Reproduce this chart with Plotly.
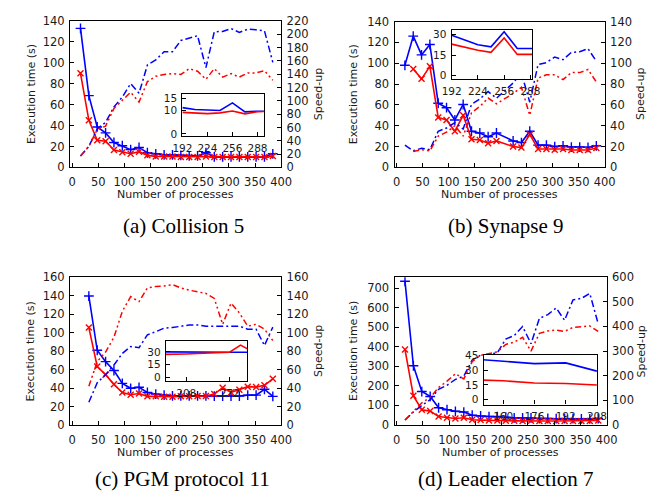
import plotly.graph_objects as go

W, H = 667, 500

# ---------------- data ----------------
# (a) Collision 5
a_x = [16, 32, 48, 64, 80, 96, 112, 128, 144, 160, 176, 192, 208, 224, 240, 256, 272, 288, 304, 320, 336, 352, 368, 384]
a_time_blue = [133, 68.7, 38.7, 33, 23.8, 20.7, 17, 19, 14, 13, 12, 12, 11.5, 11, 11, 14, 10, 10, 10, 10, 10, 10, 10, 13]
a_time_red = [90, 45, 26, 25, 16.7, 14.5, 13, 15, 11.5, 10.5, 10.5, 10.5, 10, 10, 10, 10.5, 10, 10, 10, 10, 10, 10, 10, 11]
a_speed_blue = [17, 31.6, 58, 67.7, 91, 105.6, 126, 111.5, 154, 161.6, 173.8, 173.8, 190.8, 194, 198, 150, 204, 204.4, 208.8, 203, 207.8, 206.9, 205.4, 158]
a_speed_red = [17, 31.6, 57, 62, 88.6, 100.8, 113, 98.3, 129, 137, 139.7, 141, 139.7, 148.5, 144.6, 132.4, 148.5, 135.8, 141, 135.8, 142, 142, 145.5, 131]
a_in_x = [192, 208, 224, 240, 256, 272, 288, 304]
a_in_blue = [11.0, 10.2, 10.0, 9.8, 13.0, 9.2, 9.5, 9.5]
a_in_red = [9.0, 8.9, 8.5, 8.8, 9.6, 8.4, 9.3, 9.5]

# (b) Synapse 9
b_x_blue = [16, 32, 48, 64, 80, 96, 112, 128, 144, 160, 176, 192, 224, 240, 256, 272, 288, 304, 320, 336, 352, 368, 384]
b_x_red = [32, 48, 64, 80, 96, 112, 128, 144, 160, 176, 192, 224, 240, 256, 272, 288, 304, 320, 336, 352, 368, 384]
b_time_blue = [98, 126, 108, 118, 61.6, 57.3, 45.5, 60.4, 34.7, 33, 29.4, 33, 25.4, 23.8, 34.7, 21.4, 21.4, 20, 20.7, 19.5, 19.5, 19.2, 20.7]
b_time_red = [94.5, 85, 97, 48, 45.5, 34.7, 50, 27, 26.3, 23.2, 25.4, 20, 19, 31.6, 17.7, 17.7, 17, 17.7, 16.7, 16.7, 16.7, 18.6]
b_speed_blue = [21.4, 16, 18.3, 17, 34.7, 37.8, 43, 36.8, 60.4, 65.7, 72.8, 66.3, 81, 90.4, 62.6, 98.8, 100.6, 106, 103.4, 110.5, 111, 114, 101.9]
b_speed_red = [15.2, 17, 15.8, 30, 33.8, 40, 30, 52.3, 58.5, 66.6, 61, 71, 77, 50, 85.8, 88.9, 88.9, 84.2, 91, 91, 94, 82]
b_in_x = [192, 224, 240, 256, 272, 288, 304]
b_in_blue = [29.5, 22.5, 21, 32, 19.8, 19.8, 19.8]
b_in_red = [23, 18.5, 17, 27.5, 15.5, 15.5, 15.5]

# (c) PGM protocol 11
c_x = [32, 48, 64, 80, 96, 112, 128, 144, 160, 176, 192, 208, 224, 240, 256, 272, 288, 304, 320, 336, 352, 368, 384]
c_time_blue = [139.6, 80.9, 68.6, 59, 45, 39.7, 40.8, 35.2, 33.4, 32.3, 31.6, 31.6, 31.6, 31.6, 31.6, 31.3, 31.3, 31.3, 31.3, 32.3, 32.3, 38.7, 31]
c_time_red = [105.5, 63.3, 54.5, 44, 35.2, 32.7, 34, 31, 31, 30.6, 30.6, 31, 31, 31.3, 31.3, 33.4, 40.4, 35.2, 38, 41.5, 41, 42.9, 50]
c_speed_blue = [24.6, 45.7, 54.5, 65, 77.4, 85, 83.7, 97.7, 101, 104.8, 105.5, 107, 108.3, 108.3, 107, 107, 107, 107, 107, 103.7, 103.7, 86, 106]
c_speed_red = [42, 68.6, 79, 95, 123, 139, 133.6, 148.4, 150, 150.5, 152, 148.4, 146, 144, 142.4, 137, 109, 131.9, 121.3, 107, 109, 103.7, 91.4]
c_in_x = [176, 192, 208, 224, 240, 256, 272, 288, 304]
c_in_blue = [30, 29.8, 29.6, 29.5, 29.5, 29.5, 29.5, 29.5, 29.5]
c_in_red = [27, 27, 27.5, 28, 28.5, 29, 29.5, 38, 31]

# (d) Leader election 7
d_x = [16, 32, 48, 64, 80, 96, 112, 128, 144, 160, 176, 192, 208, 224, 240, 256, 272, 288, 304, 320, 336, 352, 368, 384]
d_time_blue = [735, 303, 171, 146, 88, 78, 70, 66, 50, 46, 43, 43, 40, 36.5, 36, 36, 33, 33, 32, 33, 32, 31, 31, 33]
d_time_red = [386, 149, 78, 71, 43, 36.5, 33, 36.5, 26.5, 25, 23, 23, 21.5, 21, 20, 21, 20, 20, 20, 20, 20, 20, 20, 23]
d_speed_blue = [20, 53, 79, 103, 145, 161, 185, 198, 264, 283, 287, 293, 349, 363, 400, 330, 433, 448, 475, 425, 508, 514, 534, 411]
d_speed_red = [20, 53, 90, 112, 152, 178, 208, 187, 257, 283, 290, 297, 327, 336, 356, 300, 372, 382, 385, 380, 396, 398, 402, 380]
d_in_x = [144, 160, 176, 192, 208]
d_in_blue = [41.5, 39, 36.7, 37.4, 29]
d_in_red = [20.3, 19.2, 16.9, 16.5, 14.9]

captions = ["(a) Collision 5", "(b) Synapse 9", "(c) PGM protocol 11", "(d) Leader election 7"]
x_ticks = [0, 50, 100, 150, 200, 250, 300, 350, 400]
left_ranges = [[0, 140], [0, 140], [0, 160], [0, 756]]
left_ticks = [list(range(0, 141, 20)), list(range(0, 141, 20)), list(range(0, 161, 20)), list(range(0, 701, 100))]
right_ranges = [[0, 220], [0, 140], [0, 160], [0, 600]]
right_ticks = [list(range(0, 221, 20)), list(range(0, 141, 20)), list(range(0, 161, 20)), list(range(0, 601, 100))]
inset_xranges = [[192, 296], [192, 290], [178, 298], [150, 208]]
inset_xticks = [[192, 224, 256, 288], [192, 224, 256, 288], [208, 272], [160, 176, 192, 208]]
inset_yranges = [[-1, 16.5], [-2.3, 33], [-5, 42.5], [-5, 45.5]]
inset_yticks = [[0, 10, 15], [0, 15, 30], [0, 15, 30], [0, 15, 30, 45]]

# ---------------- layout geometry (pixels) ----------------
main_boxes = [(62, 14.5, 280, 165), (397, 15, 614, 165), (62, 278, 280, 430), (397, 278, 616, 430)]
inset_boxes = [(178, 90, 262, 133), (456, 24, 539, 74), (161, 344, 245, 385), (489, 358, 606, 409)]
cap_pos = [(179, 225), (512, 225), (178, 486), (512, 486)]
left_title_x = [21.5, 355, 21, 354]
right_title_x = [318, 651, 318, 652]

BLUE = "#0000ff"
RED = "#ff0000"
FONT = "DejaVu Sans"
TXT = "#1a1a1a"


def xd(a, b):
    return [a / W, b / W]


def yd(top, bottom):
    return [1 - bottom / H, 1 - top / H]


fig = go.Figure()
layout = dict(
    width=W, height=H, margin=dict(l=0, r=0, t=0, b=0),
    paper_bgcolor="white", plot_bgcolor="#fffffe", showlegend=False,
    font=dict(family=FONT, size=11, color=TXT),
)

panels = [
    (a_x, a_time_blue, a_x, a_time_red, a_x, a_speed_blue, a_x, a_speed_red, a_in_x, a_in_blue, a_in_red),
    (b_x_blue, b_time_blue, b_x_red, b_time_red, b_x_blue, b_speed_blue, b_x_red, b_speed_red, b_in_x, b_in_blue, b_in_red),
    (c_x, c_time_blue, c_x, c_time_red, c_x, c_speed_blue, c_x, c_speed_red, c_in_x, c_in_blue, c_in_red),
    (d_x, d_time_blue, d_x, d_time_red, d_x, d_speed_blue, d_x, d_speed_red, d_in_x, d_in_blue, d_in_red),
]

axis_common = dict(showline=True, linecolor="black", linewidth=1.2, ticks="inside", ticklen=4,
                   tickcolor="black", tickwidth=1, showgrid=False, zeroline=False,
                   tickfont=dict(family=FONT, size=11.5, color=TXT))
inset_font = dict(family=FONT, size=10.5, color=TXT)

annotations = []
for i in range(4):
    k = i + 1
    xid, yl, yr = k, k, k + 4
    xin, yin = k + 4, k + 8
    L, T, R, B = main_boxes[i]
    layout[f"xaxis{xid}"] = dict(axis_common, domain=xd(L, R), range=[-4, 400], tickvals=x_ticks,
                                 anchor=f"y{yl}", mirror=True, ticklabelstandoff=4)
    layout[f"yaxis{yl}"] = dict(axis_common, domain=yd(T, B), range=left_ranges[i], tickvals=left_ticks[i],
                                anchor=f"x{xid}", ticklabelstandoff=2)
    layout[f"yaxis{yr}"] = dict(axis_common, range=right_ranges[i], tickvals=right_ticks[i],
                                anchor=f"x{xid}", overlaying=f"y{yl}", side="right", ticklabelstandoff=2)
    iL, iT, iR, iB = inset_boxes[i]
    layout[f"xaxis{xin}"] = dict(axis_common, domain=xd(iL, iR), range=inset_xranges[i], tickvals=inset_xticks[i],
                                 anchor=f"y{yin}", mirror=True, ticklabelstandoff=2, tickfont=inset_font)
    layout[f"yaxis{yin}"] = dict(axis_common, domain=yd(iT, iB), range=inset_yranges[i], tickvals=inset_yticks[i],
                                 anchor=f"x{xin}", mirror=True, ticklabelstandoff=2, tickfont=inset_font)

    xb, tb, xr, tr, xsb, sb, xsr, sr, ix, ib, ir = panels[i]
    xa = "x" if k == 1 else f"x{k}"
    ya = "y" if k == 1 else f"y{k}"
    # speed-up lines (right axis)
    fig.add_trace(go.Scatter(x=xsb, y=sb, mode="lines", xaxis=xa, yaxis=f"y{yr}",
                             line=dict(color=BLUE, width=1.5, dash="7px,3px,2px,3px")))
    fig.add_trace(go.Scatter(x=xsr, y=sr, mode="lines", xaxis=xa, yaxis=f"y{yr}",
                             line=dict(color=RED, width=1.5, dash="6px,3px,2px,3px,2px,3px")))
    # execution times (left axis)
    fig.add_trace(go.Scatter(x=xb, y=tb, mode="lines+markers", xaxis=xa, yaxis=ya,
                             line=dict(color=BLUE, width=1.6),
                             marker=dict(symbol="cross-thin", size=7, line=dict(color=BLUE, width=1.4))))
    fig.add_trace(go.Scatter(x=xr, y=tr, mode="lines+markers", xaxis=xa, yaxis=ya,
                             line=dict(color=RED, width=1.6),
                             marker=dict(symbol="x-thin", size=6, line=dict(color=RED, width=1.4))))
    # inset
    fig.add_trace(go.Scatter(x=ix, y=ib, mode="lines", xaxis=f"x{xin}", yaxis=f"y{yin}",
                             line=dict(color=BLUE, width=1.6)))
    fig.add_trace(go.Scatter(x=ix, y=ir, mode="lines", xaxis=f"x{xin}", yaxis=f"y{yin}",
                             line=dict(color=RED, width=1.6)))

    cy = (T + B) / 2
    annotations.append(dict(text="Execution time (s)", x=left_title_x[i] / W, y=1 - cy / H, xref="paper", yref="paper",
                            showarrow=False, textangle=-90, xanchor="center", yanchor="middle",
                            font=dict(family=FONT, size=11, color=TXT)))
    annotations.append(dict(text="Speed-up", x=right_title_x[i] / W, y=1 - cy / H, xref="paper", yref="paper",
                            showarrow=False, textangle=-90, xanchor="center", yanchor="middle",
                            font=dict(family=FONT, size=11, color=TXT)))
    annotations.append(dict(text="Number of processes", x=(L + R) / 2 / W, y=1 - (B + 28) / H, xref="paper", yref="paper",
                            showarrow=False, xanchor="center", yanchor="middle",
                            font=dict(family=FONT, size=11, color=TXT)))
    annotations.append(dict(text=captions[i], x=cap_pos[i][0] / W, y=1 - cap_pos[i][1] / H, xref="paper", yref="paper",
                            showarrow=False, xanchor="center", yanchor="middle",
                            font=dict(family="Liberation Serif", size=21, color="black")))

layout["annotations"] = annotations
fig.update_layout(**layout)
fig.write_html("out.html", config={"displayModeBar": False})

# remove the default page margin so the figure sits at the window's top-left corner
with open("out.html", encoding="utf-8") as f:
    html = f.read()
html = html.replace("<head>", "<head><style>html,body{margin:0;padding:0;overflow:hidden;}</style>", 1)
with open("out.html", "w", encoding="utf-8") as f:
    f.write(html)
